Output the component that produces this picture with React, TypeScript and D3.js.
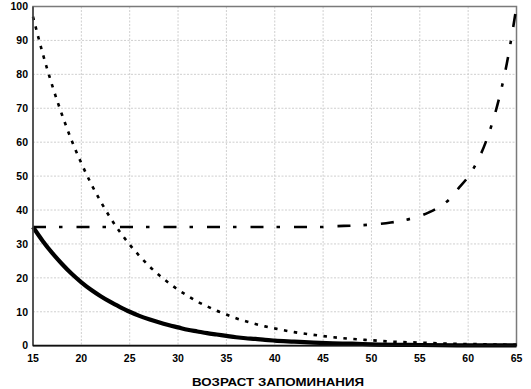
import React from "react";
import * as d3 from "d3";

const xTicks = [15, 20, 25, 30, 35, 40, 45, 50, 55, 60, 65];
const yTicks = [0, 10, 20, 30, 40, 50, 60, 70, 80, 90, 100];
const xTitle = "ВОЗРАСТ ЗАПОМИНАНИЯ";

const solidX = [15, 16, 17, 18, 19, 20, 21, 22, 23, 24, 25, 26, 27, 28, 29, 30, 31, 32, 33, 34, 35, 36, 37, 38, 39, 40, 42, 44, 46, 48, 50, 55, 60, 65];
const solidY = [35.0, 30.9, 27.3, 24.1, 21.2, 18.7, 16.5, 14.6, 12.9, 11.4, 10.0, 8.8, 7.8, 6.9, 6.1, 5.4, 4.7, 4.2, 3.7, 3.3, 2.9, 2.5, 2.2, 2.0, 1.7, 1.5, 1.2, 0.9, 0.7, 0.6, 0.4, 0.2, 0.1, 0.1];

const dottedX = [15, 16, 17, 18, 19, 20, 21, 22, 23, 24, 25, 26, 27, 28, 29, 30, 31, 32, 33, 34, 35, 36, 37, 38, 39, 40, 42, 44, 46, 48, 50, 52, 54, 56, 58, 60, 62, 64, 65];
const dottedY = [97.0, 86.2, 76.6, 68.1, 60.5, 53.8, 47.8, 42.5, 37.7, 33.5, 29.8, 26.5, 23.5, 20.9, 18.6, 16.5, 14.7, 13.0, 11.6, 10.3, 9.2, 8.1, 7.2, 6.4, 5.7, 5.1, 4.0, 3.2, 2.5, 2.0, 1.6, 1.2, 1.0, 0.8, 0.6, 0.5, 0.4, 0.3, 0.3];

const dashDotX = [15, 20, 25, 30, 35, 40, 45, 46, 48, 50, 52, 54, 55, 56, 57, 58, 59, 60, 61, 62, 63, 64, 65];
const dashDotY = [35.0, 35.0, 35.0, 35.0, 35.0, 35.0, 35.0, 35.2, 35.4, 35.7, 36.3, 37.4, 38.2, 39.4, 40.9, 43.0, 46.4, 49.8, 54.6, 61.4, 70.7, 83.2, 100];

const W = 531;
const H = 389;
const left = 33;
const right = 516.5;
const top = 6.5;
const bottom = 345.7;

export default function App() {
  const x = d3.scaleLinear().domain([15, 65]).range([left, right]);
  const y = d3.scaleLinear().domain([0, 100]).range([bottom, top]);

  const mk = (xs: number[], ys: number[]) =>
    d3
      .line<number>()
      .x((_, i) => x(xs[i]))
      .y((v) => y(v))
      .curve(d3.curveMonotoneX)(ys) || "";

  const font = "Arial, 'Liberation Sans', sans-serif";

  return (
    <svg
      width={W}
      height={H}
      style={{ position: "absolute", left: 0, top: 0, background: "#fff" }}
    >
      <g>
        {xTicks.slice(1, -1).map((t) => (
          <line
            key={"gx" + t}
            x1={x(t)}
            x2={x(t)}
            y1={top}
            y2={bottom}
            stroke="#cfcfcf"
            strokeWidth={1}
            strokeDasharray="2,1.5"
          />
        ))}
        {yTicks.slice(1, -1).map((t) => (
          <line
            key={"gy" + t}
            x1={left}
            x2={right}
            y1={y(t)}
            y2={y(t)}
            stroke="#cfcfcf"
            strokeWidth={1}
            strokeDasharray="2,1.5"
          />
        ))}
      </g>
      <rect
        x={left}
        y={top}
        width={right - left}
        height={bottom - top}
        fill="none"
        stroke="#7a7a7a"
        strokeWidth={1.5}
      />
      <path
        d={mk(dottedX, dottedY)}
        fill="none"
        stroke="#000"
        strokeWidth={2.6}
        strokeDasharray="3.5,6.5"
      />
      <path
        d={mk(dashDotX, dashDotY)}
        fill="none"
        stroke="#000"
        strokeWidth={2.6}
        strokeDasharray="13,13,3.5,14"
      />
      <path
        d={mk(solidX, solidY)}
        fill="none"
        stroke="#000"
        strokeWidth={4.2}
      />
      <line x1={left} x2={left} y1={top} y2={bottom} stroke="#444" strokeWidth={1.6} />
      <line x1={left} x2={right} y1={bottom} y2={bottom} stroke="#111" strokeWidth={1.8} />
      {yTicks.map((t) => (
        <text
          key={"ty" + t}
          x={28}
          y={y(t)}
          dy="0.36em"
          textAnchor="end"
          fontFamily={font}
          fontWeight="bold"
          fontSize={10.5}
          fill="#000"
        >
          {t}
        </text>
      ))}
      {xTicks.map((t) => (
        <text
          key={"tx" + t}
          x={x(t)}
          y={362}
          textAnchor="middle"
          fontFamily={font}
          fontWeight="bold"
          fontSize={10.5}
          fill="#000"
        >
          {t}
        </text>
      ))}
      <text
        x={278}
        y={385.5}
        textAnchor="middle"
        fontFamily={font}
        fontWeight="bold"
        fontSize={11}
        textLength={172}
        lengthAdjust="spacingAndGlyphs"
        fill="#000"
      >
        {xTitle}
      </text>
    </svg>
  );
}
